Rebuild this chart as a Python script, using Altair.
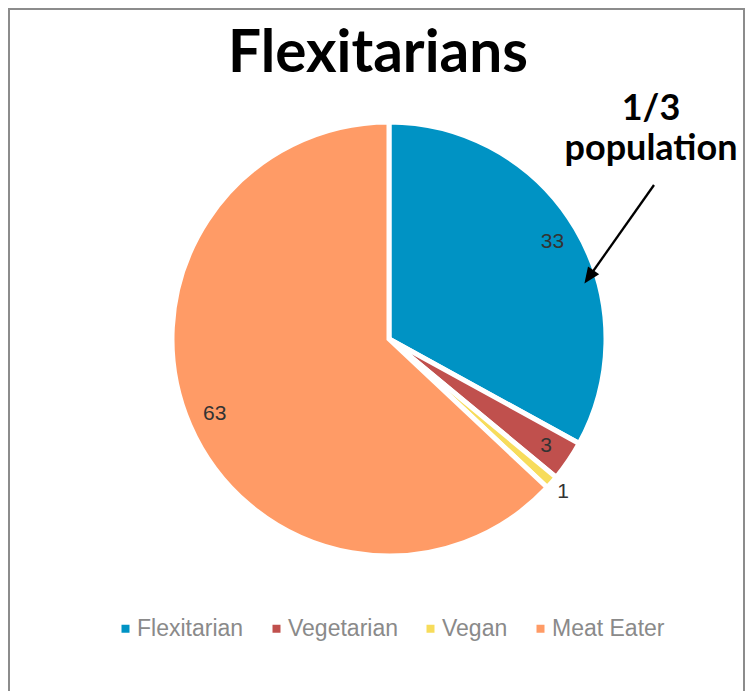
import altair as alt
import pandas as pd

categories = ["Flexitarian", "Vegetarian", "Vegan", "Meat Eater"]
values = [33, 3, 1, 63]
colors = ["#0093C4", "#C0504D", "#F7DC5B", "#FF9B66"]
title_text = "Flexitarians"
note_lines = ["1/3", "population"]

df = pd.DataFrame({"category": categories, "value": values,
                   "rank": list(range(len(categories)))})
one = pd.DataFrame({"k": [0]})

W, H = 737, 683
CX, CY = 381, 331

base = alt.Chart(df).encode(
    theta=alt.Theta("value:Q", stack=True),
    order=alt.Order("rank:Q"),
)

pie = base.mark_arc(outerRadius=217, stroke="white", strokeWidth=5).encode(
    color=alt.Color(
        "category:N",
        scale=alt.Scale(domain=categories, range=colors),
        sort=categories,
        legend=alt.Legend(
            orient="none", legendX=106, legendY=609, direction="horizontal",
            title=None, symbolType="square", symbolSize=64, symbolStrokeWidth=0,
            labelFontSize=23, labelColor="#8A8A8A", labelFont="Liberation Sans",
            labelOffset=0, columnPadding=21, padding=0,
        ),
    ),
    x=alt.value(CX),
    y=alt.value(CY),
)

inner_labels = base.mark_text(radius=190, fontSize=21, font="Liberation Sans",
                              color="#333333").encode(
    text=alt.condition(alt.datum.value >= 2, alt.Text("value:Q"), alt.value("")),
    x=alt.value(CX),
    y=alt.value(CY),
)
outer_labels = base.mark_text(radius=232, fontSize=21, font="Liberation Sans",
                              color="#333333").encode(
    text=alt.condition(alt.datum.value < 2, alt.Text("value:Q"), alt.value("")),
    x=alt.value(CX),
    y=alt.value(CY),
)

title = alt.Chart(one).mark_text(
    font="Lato", fontWeight="bold", fontSize=58.5, baseline="alphabetic",
    align="center", color="black",
).encode(text=alt.value(title_text), x=alt.value(370), y=alt.value(64))

note = alt.Chart(one).mark_text(
    font="Lato", fontWeight="bold", fontSize=36, baseline="alphabetic",
    align="center", color="black", lineHeight=40,
).encode(text=alt.value(note_lines), x=alt.value(643), y=alt.value(112))

arrow_line = alt.Chart(one).mark_rule(color="black", strokeWidth=2.3).encode(
    x=alt.value(646), y=alt.value(177), x2=alt.value(581), y2=alt.value(269)
)
arrow_head = alt.Chart(one).mark_point(
    shape="M0,1L-0.85,-1L0.85,-1Z", filled=True, size=256, angle=35,
    color="black", opacity=1,
).encode(x=alt.value(581), y=alt.value(269))

border_color = "#8C8C8C"
border_left = alt.Chart(one).mark_rule(color=border_color, strokeWidth=2).encode(
    x=alt.value(1), y=alt.value(0), y2=alt.value(H))
border_top = alt.Chart(one).mark_rule(color=border_color, strokeWidth=2).encode(
    x=alt.value(0), x2=alt.value(W), y=alt.value(1))
border_right = alt.Chart(one).mark_rule(color=border_color, strokeWidth=2).encode(
    x=alt.value(W - 1), y=alt.value(0), y2=alt.value(H))

chart = alt.layer(
    border_left, border_top, border_right,
    pie, inner_labels, outer_labels, title, note, arrow_line, arrow_head,
).properties(
    width=W, height=H, padding=0, autosize="none", background="white",
).configure_view(stroke=None)

chart.save("out.html", embed_options={"renderer": "svg", "actions": False})
